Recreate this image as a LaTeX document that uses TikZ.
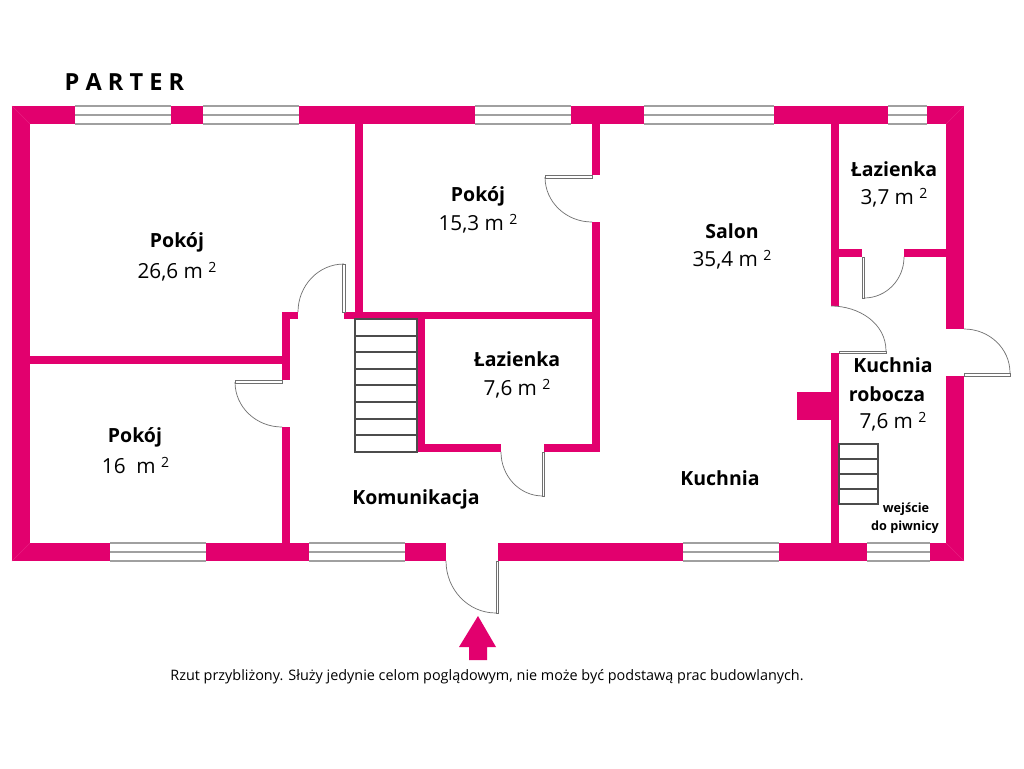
\documentclass[tikz,border=0pt]{standalone}
\usepackage{fontspec}
\setmainfont{Open Sans}
\definecolor{wallpink}{HTML}{E2006E}
\definecolor{miterpink}{HTML}{E81E80}
\definecolor{framegray}{HTML}{A0A0A0}
\newcommand{\sqm}{\ \raisebox{0.5ex}{\footnotesize 2}}
\tikzset{
  wall/.style={fill=wallpink},
  miter/.style={draw=miterpink,line width=0.3pt},
  window/.style={draw=framegray,line width=0.7pt},
  leaf/.style={draw=framegray!70!black,line width=0.4pt,fill=white},
  swing/.style={draw=framegray!70!black,line width=0.4pt},
  tread/.style={draw=black!70,line width=0.6pt},
  room/.style={font=\fontsize{11.1}{13}\selectfont\bfseries,inner sep=0pt,yshift=-1pt},
  area/.style={font=\fontsize{11.8}{13}\selectfont,inner sep=0pt,yshift=-1pt},
  small/.style={font=\fontsize{7.2}{9}\selectfont\bfseries,inner sep=0pt}
}
\begin{document}
\begin{tikzpicture}[x=0.02cm,y=-0.02cm]
  \path[use as bounding box,fill=white] (0,0) rectangle (1024,768);
  % outer walls
  \fill[wall] (12,106) rectangle (964,124);
  \fill[wall] (12,543) rectangle (964,561);
  \fill[wall] (12,106) rectangle (30,561);
  \fill[wall] (946,106) rectangle (964,561);
  % inner walls, vertical
  \fill[wall] (355,124) rectangle (363,319);
  \fill[wall] (282,312) rectangle (290,543);
  \fill[wall] (417,319) rectangle (425,452);
  \fill[wall] (592,124) rectangle (600,452);
  \fill[wall] (831,124) rectangle (839,543);
  % inner walls, horizontal
  \fill[wall] (30,356) rectangle (282,364);
  \fill[wall] (282,312) rectangle (600,319);
  \fill[wall] (417,444) rectangle (600,452);
  \fill[wall] (839,249) rectangle (946,257);
  % chimney
  \fill[wall] (797,392) rectangle (831,420);
  % corner joints
  \draw[miter] (12,106) -- (30,124);
  \draw[miter] (964,106) -- (946,124);
  \draw[miter] (12,561) -- (30,543);
  \draw[miter] (964,561) -- (946,543);
  % windows, top
  \foreach \xa/\xb in {75/171, 203/299, 475/571, 644/774, 888/927} {
    \fill[white] (\xa,105.5) rectangle (\xb,124.5);
    \draw[window] (\xa,106) -- (\xb,106);
    \draw[window] (\xa,115) -- (\xb,115);
    \draw[window] (\xa,124) -- (\xb,124);
  }
  % windows, bottom
  \foreach \xa/\xb in {110/206, 309/405, 683/779, 867/930} {
    \fill[white] (\xa,542.5) rectangle (\xb,561.5);
    \draw[window] (\xa,543) -- (\xb,543);
    \draw[window] (\xa,552) -- (\xb,552);
    \draw[window] (\xa,561) -- (\xb,561);
  }
  % door openings
  \fill[white] (298,311) rectangle (344,320);
  \fill[white] (281,380) rectangle (291,427);
  \fill[white] (591,175) rectangle (601,222);
  \fill[white] (501,443) rectangle (544,453);
  \fill[white] (446,542) rectangle (498,562);
  \fill[white] (830,306) rectangle (840,353);
  \fill[white] (862,248) rectangle (904,258);
  \fill[white] (945,329) rectangle (965,376);
  % door leaves
  \draw[leaf] (342,264) rectangle (345,312);
  \draw[leaf] (235,380) rectangle (282,383);
  \draw[leaf] (545,175) rectangle (592,178);
  \draw[leaf] (542,452) rectangle (544,496);
  \draw[leaf] (496,561) rectangle (498,613);
  \draw[leaf] (839,351) rectangle (886,353);
  \draw[leaf] (862,257) rectangle (864,298);
  \draw[leaf] (964,373) rectangle (1010,376);
  % door swings
  \draw[swing] (298,312) to[out=90,in=180] (344,264);
  \draw[swing] (235,382) to[out=-90,in=180] (282,427);
  \draw[swing] (545,177) to[out=-90,in=180] (592,222);
  \draw[swing] (501,452) to[out=-90,in=180] (543,496);
  \draw[swing] (446,561) to[out=-90,in=180] (496,613);
  \draw[swing] (831,306) to[out=0,in=90] (886,351);
  \draw[swing] (904,257) to[out=-90,in=0] (864,298);
  \draw[swing] (964,329) to[out=0,in=90] (1010,373);
  % stairs
  \draw[tread] (355,319) rectangle (417,452);
  \foreach \y in {336,352,369,385,402,419,435} {
    \draw[tread] (355,\y) -- (417,\y);
  }
  \draw[tread] (839,444) rectangle (878,504);
  \foreach \y in {459,474,489} {
    \draw[tread] (839,\y) -- (878,\y);
  }
  % entrance arrow
  \fill[wall] (478,616) -- (496,647) -- (487,647) -- (487,660) -- (469,660) -- (469,647) -- (459,647) -- cycle;
  % title
  \node[room] (title) at (124.5,80) {\fontsize{13.4}{15}\selectfont P A R T E R};
  % rooms
  \node[room] (room1) at (177,241) {Pokój};
  \node[area] (area1) at (177,270) {26,6 m\sqm};
  \node[room] (room2) at (478,195) {Pokój};
  \node[area] (area2) at (478,222) {15,3 m\sqm};
  \node[room] (room3) at (732,229) {Salon};
  \node[area] (area3) at (732,258) {35,4 m\sqm};
  \node[room] (room4) at (894,167) {Łazienka};
  \node[area] (area4) at (894,196) {3,7 m\sqm};
  \node[room] (room5) at (517,357) {Łazienka};
  \node[area] (area5) at (517,387) {7,6 m\sqm};
  \node[room] (room6) at (135,436) {Pokój};
  \node[area] (area6) at (135.5,464) {16\ \ m\sqm};
  \node[room] (room7) at (416,498) {Komunikacja};
  \node[room] (room8) at (720,476) {Kuchnia};
  \node[room] (room9) at (893,363) {Kuchnia};
  \node[room] (room9b) at (887,392) {robocza};
  \node[area] (area9) at (893,420) {7,6 m\sqm};
  \node[small] (cellar1) at (906,509) {wejście};
  \node[small] (cellar2) at (905,527) {do piwnicy};
  % footnote
  \node[inner sep=0pt,font=\fontsize{8.2}{10}\selectfont] (note) at (487,677) {Rzut przybliżony. Służy jedynie celom poglądowym, nie może być podstawą prac budowlanych.};
\end{tikzpicture}
\end{document}
